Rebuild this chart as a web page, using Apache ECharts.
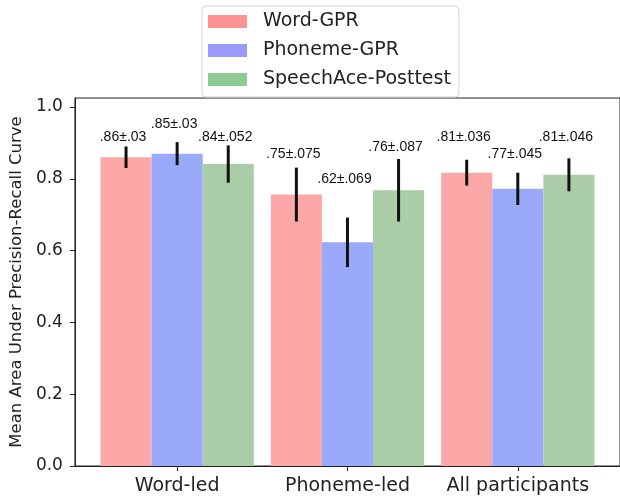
<!DOCTYPE html>
<html>
<head>
<meta charset="utf-8">
<script src="https://cdn.jsdelivr.net/npm/echarts@6/dist/echarts.min.js"></script>
<style>html,body{margin:0;padding:0;background:#fff}#c{width:620px;height:497px}</style>
</head>
<body>
<div id="c"></div>
<script>
// ---- data ----
var categories = ['Word-led', 'Phoneme-led', 'All participants'];
var seriesNames = ['Word-GPR', 'Phoneme-GPR', 'SpeechAce-Posttest'];
var wordGPR = [0.860, 0.756, 0.817];
var phonemeGPR = [0.870, 0.623, 0.772];
var speechAce = [0.841, 0.768, 0.811];
var wordErr = [0.030, 0.075, 0.036];
var phonemeErr = [0.032, 0.069, 0.045];
var speechErr = [0.052, 0.087, 0.046];
var wordLabels = ['.86\u00b1.03', '.75\u00b1.075', '.81\u00b1.036'];
var phonemeLabels = ['.85\u00b1.03', '.62\u00b1.069', '.77\u00b1.045'];
var speechLabels = ['.84\u00b1.052', '.76\u00b1.087', '.81\u00b1.046'];
var wordLabelHeights = [0.917, 0.868, 0.917];
var phonemeLabelHeights = [0.952, 0.799, 0.869];
var speechLabelHeights = [0.916, 0.889, 0.917];
var yTicks = [0, 0.2, 0.4, 0.6, 0.8, 1.0];

// ---- styling ----
var barColors = ['#FCA8A8', '#9AA9F9', '#AACCA6'];
var legendColors = ['#FD9292', '#9A9AFB', '#8FCC95'];
var barW = 0.3;
var offsets = [-0.3, 0, 0.3];

var means = [wordGPR, phonemeGPR, speechAce];
var errs = [wordErr, phonemeErr, speechErr];
var labels = [wordLabels, phonemeLabels, speechLabels];
var labelHs = [wordLabelHeights, phonemeLabelHeights, speechLabelHeights];

function makeSeries(k) {
  var data = categories.map(function (c, i) {
    return [i, means[k][i], errs[k][i], labelHs[k][i]];
  });
  return {
    name: seriesNames[k],
    type: 'custom',
    itemStyle: { color: barColors[k] },
    data: data,
    encode: { x: 0, y: 1 },
    renderItem: function (params, api) {
      var i = api.value(0), m = api.value(1), e = api.value(2), lh = api.value(3);
      var xc = i + offsets[k];
      var p0 = api.coord([xc - barW / 2, m]);
      var p1 = api.coord([xc + barW / 2, 0]);
      var c = api.coord([xc, m]);
      var top = api.coord([xc, m + e]);
      var bot = api.coord([xc, m - e]);
      var lp = api.coord([xc, lh]);
      return {
        type: 'group',
        children: [
          { type: 'rect', shape: { x: p0[0], y: p0[1], width: p1[0] - p0[0], height: p1[1] - p0[1] },
            style: { fill: barColors[k] } },
          { type: 'line', z2: 5, shape: { x1: c[0], y1: top[1], x2: c[0], y2: bot[1] },
            style: { stroke: '#111', lineWidth: 3 } },
          { type: 'text', z2: 6, style: { text: labels[k][params.dataIndex], x: lp[0] - 3, y: lp[1],
            align: 'center', verticalAlign: 'middle', font: '14px "Liberation Sans", Arial, sans-serif', fill: '#111' } }
        ]
      };
    }
  };
}

var chart = echarts.init(document.getElementById('c'), null, { renderer: 'canvas' });
chart.setOption({
  animation: false,
  backgroundColor: '#fff',
  grid: { left: 69, right: -3, top: 98, bottom: 31, show: true, borderColor: '#222', borderWidth: 1, backgroundColor: 'transparent' },
  legend: {
    orient: 'vertical', left: 202, top: 6,
    padding: [6, 8, 8, 6],
    itemGap: 10, itemWidth: 39, itemHeight: 13, icon: 'rect',
    backgroundColor: '#fff', borderColor: '#d5d5d5', borderWidth: 1, borderRadius: 4,
    textStyle: { fontFamily: 'DejaVu Sans', fontSize: 19, color: '#222', padding: [0, 0, 0, 11] },
    data: seriesNames.map(function (n, k) { return { name: n, itemStyle: { color: legendColors[k] } }; })
  },
  xAxis: {
    type: 'value', min: -0.6, max: 2.6,
    splitLine: { show: false },
    axisLine: { show: true, onZero: false, lineStyle: { color: '#222', width: 1 } },
    axisTick: { show: true, length: 5, lineStyle: { color: '#222' }, customValues: [0, 1, 2] },
    axisLabel: { customValues: [0, 1, 2], margin: 11, fontFamily: 'DejaVu Sans', fontSize: 19, color: '#222',
      formatter: function (v) { return categories[Math.round(v)]; } }
  },
  yAxis: {
    type: 'value', min: 0, max: 1.025,
    name: 'Mean Area Under Precision-Recall Curve',
    nameLocation: 'middle', nameGap: 39,
    nameTextStyle: { fontFamily: 'DejaVu Sans', fontSize: 16.5, color: '#222' },
    splitLine: { show: false },
    axisLine: { show: true, onZero: false, lineStyle: { color: '#222', width: 1 } },
    axisTick: { show: true, length: 5, lineStyle: { color: '#222' }, customValues: yTicks },
    axisLabel: { customValues: yTicks, margin: 12, fontFamily: 'DejaVu Sans', fontSize: 17, color: '#222',
      formatter: function (v) { return v.toFixed(1); } }
  },
  series: [makeSeries(0), makeSeries(1), makeSeries(2)]
});
</script>
</body>
</html>
